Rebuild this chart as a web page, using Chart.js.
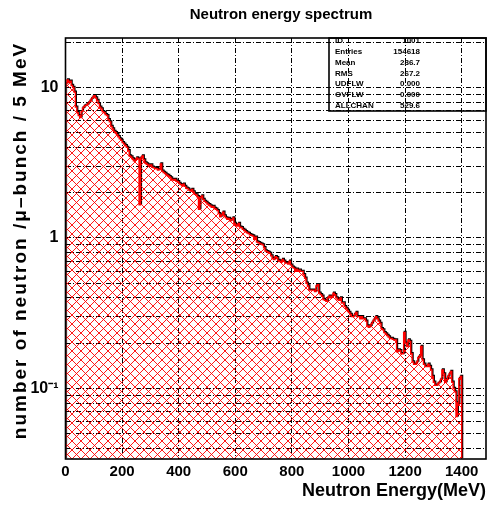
<!DOCTYPE html>
<html>
<head>
<meta charset="utf-8">
<script src="https://cdn.jsdelivr.net/npm/chart.js@4"></script>
<style>
  html, body { margin: 0; padding: 0; background: #fff; }
</style>
</head>
<body>
<canvas id="grafico" width="487" height="508"></canvas>
<script>
// =====================================================
// DATOS - espectro de energia de neutrones (bins de 5 MeV)
// =====================================================

const binWidth = 5;

const counts = [
  10.6, 11.2, 10.8, 11.0, 10.3, 10.0, 9.3, 7.4, 6.8, 6.5, 6.3, 6.9, 7.3, 7.5, 7.6, 7.7, 7.9, 8.1, 8.4, 8.6,
  8.8, 8.5, 8.2, 7.8, 7.4, 7.2, 6.9, 6.8, 6.6, 6.5, 6.1, 5.9, 5.5, 5.3, 5.1, 5.0, 4.85, 4.7, 4.55, 4.45,
  4.3, 4.2, 4.1, 4.0, 3.8, 3.5, 3.45, 3.35, 3.25, 3.3, 3.4, 3.35, 1.66, 3.4, 3.5, 3.3, 3.15, 3.1, 3.05, 3.0,
  3.05, 2.95, 2.92, 2.9, 2.88, 2.83, 2.85, 3.1, 2.78, 2.72, 2.68, 2.62, 2.6, 2.55, 2.5, 2.45, 2.42, 2.45, 2.38, 2.36,
  2.3, 2.26, 2.22, 2.28, 2.2, 2.14, 2.12, 2.08, 2.05, 2.1, 2.02, 1.95, 1.93, 1.88, 1.55, 1.85, 1.9, 1.8, 1.75, 1.72,
  1.68, 1.66, 1.63, 1.6, 1.62, 1.57, 1.55, 1.52, 1.45, 1.38, 1.42, 1.48, 1.4, 1.36, 1.33, 1.35, 1.3, 1.32, 1.36, 1.25,
  1.22, 1.2, 1.25, 1.18, 1.17, 1.14, 1.12, 1.1, 1.08, 1.07, 1.05, 1.04, 1.03, 0.98, 1.01, 0.94, 0.93, 0.92, 0.91, 0.9,
  0.86, 0.82, 0.81, 0.8, 0.79, 0.76, 0.73, 0.72, 0.75, 0.74, 0.71, 0.7, 0.69, 0.72, 0.7, 0.68, 0.68, 0.67, 0.7, 0.66,
  0.64, 0.63, 0.6, 0.62, 0.6, 0.61, 0.6, 0.6, 0.57, 0.54, 0.5, 0.48, 0.45, 0.45, 0.45, 0.45, 0.44, 0.48, 0.49, 0.43,
  0.42, 0.41, 0.39, 0.385, 0.38, 0.4, 0.41, 0.4, 0.41, 0.43, 0.42, 0.4, 0.39, 0.385, 0.4, 0.37, 0.37, 0.35, 0.34, 0.33,
  0.32, 0.31, 0.3, 0.3, 0.31, 0.32, 0.3, 0.3, 0.29, 0.3, 0.29, 0.29, 0.28, 0.26, 0.255, 0.26, 0.27, 0.28, 0.29, 0.3,
  0.29, 0.28, 0.27, 0.25, 0.245, 0.235, 0.23, 0.225, 0.22, 0.215, 0.215, 0.212, 0.21, 0.21, 0.175, 0.18, 0.178, 0.17, 0.17, 0.236,
  0.2, 0.19, 0.21, 0.205, 0.17, 0.15, 0.145, 0.145, 0.15, 0.16, 0.165, 0.19, 0.155, 0.145, 0.14, 0.14, 0.145, 0.14, 0.133, 0.12,
  0.11, 0.105, 0.105, 0.108, 0.11, 0.115, 0.133, 0.125, 0.11, 0.115, 0.12, 0.125, 0.13, 0.11, 0.1, 0.095, 0.065, 0.08, 0.116, 0.12
];

const xTickValues = [0, 200, 400, 600, 800, 1000, 1200, 1400];

const yTickValues = [
  0.04, 0.05, 0.06, 0.07, 0.08, 0.09,
  0.1, 0.2, 0.3, 0.4, 0.5, 0.6, 0.7, 0.8, 0.9,
  1, 2, 3, 4, 5, 6, 7, 8, 9,
  10, 20
];

const yTickLabels = { "0.1": "10\u207B\u00B9", "1": "1", "10": "10" };

const statsLabels = ["ID", "Entries", "Mean", "RMS", "UDFLW", "OVFLW", "ALLCHAN"];
const statsValues = ["1001", "154618", "286.7", "267.2", "0.000", "0.000", "529.6"];

const tituloY = "number of neutron /\u03BC\u2013bunch / 5 MeV";

const FUENTE = "'Liberation Sans', Arial, Helvetica, sans-serif";

// =====================================================
// PUNTOS DEL HISTOGRAMA (bordes de bin)
// =====================================================

const suelo = 1e-3;
const puntos = [{ x: 0, y: suelo }];
counts.forEach((c, i) => puntos.push({ x: i * binWidth, y: c }));
puntos.push({ x: counts.length * binWidth, y: counts[counts.length - 1] });
puntos.push({ x: counts.length * binWidth, y: suelo });

// trama cruzada roja
function crearTrama() {
  const c = document.createElement("canvas");
  c.width = 9;
  c.height = 9;
  const g = c.getContext("2d");
  g.strokeStyle = "#ff0000";
  g.lineWidth = 0.9;
  g.beginPath();
  g.moveTo(-1, -1); g.lineTo(10, 10);
  g.moveTo(-1, 10); g.lineTo(10, -1);
  g.stroke();
  return g.createPattern(c, "repeat");
}

// =====================================================
// PLUGINS
// =====================================================

const sombra = {
  id: "sombra",
  beforeDatasetDraw(chart, args) {
    if (args.index === 1) {
      chart.ctx.save();
      chart.ctx.translate(0.8, -0.9);
    }
  },
  afterDatasetDraw(chart, args) {
    if (args.index === 1) chart.ctx.restore();
  }
};

const marco = {
  id: "marco",
  afterDraw(chart) {
    const { ctx, chartArea } = chart;
    ctx.save();

    // marco del grafico
    ctx.strokeStyle = "#000";
    ctx.lineWidth = 1.6;
    ctx.strokeRect(chartArea.left, chartArea.top, chartArea.right - chartArea.left, chartArea.bottom - chartArea.top);

    // titulo
    ctx.fillStyle = "#000";
    ctx.font = "bold 15px " + FUENTE;
    ctx.textAlign = "center";
    ctx.textBaseline = "middle";
    ctx.fillText("Neutron energy spectrum", 281, 15);

    // titulo eje Y (espaciado ancho como en el original)
    ctx.save();
    ctx.translate(21, (chartArea.top + chartArea.bottom) / 2 - 8);
    ctx.rotate(-Math.PI / 2);
    ctx.font = "bold 19px " + FUENTE;
    ctx.letterSpacing = "2px";
    ctx.fillText(tituloY, 0, 0);
    ctx.restore();

    // caja de estadisticas
    const bx = 329, by = chartArea.top, bw = chartArea.right - 329, bh = 73;
    ctx.lineWidth = 1.6;
    ctx.strokeRect(bx, by, bw, bh);
    ctx.font = "bold 8px " + FUENTE;
    statsLabels.forEach((lab, i) => {
      const y = by + 3 + i * 10.8;
      ctx.textAlign = "left";
      ctx.fillText(lab, bx + 6, y);
      ctx.textAlign = "right";
      ctx.fillText(statsValues[i], 420, y);
    });

    ctx.restore();
  }
};

// =====================================================
// GRAFICO
// =====================================================

const ctx = document.getElementById("grafico").getContext("2d");

new Chart(ctx, {
  type: "line",
  data: {
    datasets: [
      {
        data: puntos,
        stepped: "before",
        borderColor: "#ff0000",
        borderWidth: 1.4,
        backgroundColor: crearTrama(),
        fill: "start",
        pointRadius: 0,
        order: 0
      },
      {
        data: puntos,
        stepped: "before",
        borderColor: "#000",
        borderWidth: 1.6,
        fill: false,
        pointRadius: 0,
        order: 1
      }
    ]
  },
  options: {
    responsive: false,
    animation: false,
    layout: { padding: { top: 38, right: 1, bottom: 0, left: 0 } },
    plugins: {
      legend: { display: false },
      tooltip: { enabled: false }
    },
    scales: {
      x: {
        type: "linear",
        min: 0,
        max: 1486,
        z: 1,
        afterFit: s => { s.height = 49; },
        afterBuildTicks: s => { s.ticks = xTickValues.map(v => ({ value: v })); },
        ticks: {
          autoSkip: false,
          maxRotation: 0,
          padding: 4,
          color: "#000",
          font: { family: FUENTE, size: 15, weight: "bold" },
          callback: v => String(v)
        },
        grid: { color: "#000", lineWidth: 1, drawTicks: false },
        border: { display: false, dash: [5, 2, 1, 2] },
        title: {
          display: true,
          text: "Neutron Energy(MeV)",
          align: "end",
          color: "#000",
          font: { family: FUENTE, size: 18, weight: "bold" },
          padding: { top: 0, bottom: 6 }
        }
      },
      y: {
        type: "logarithmic",
        min: 0.034,
        max: 21.3,
        z: 1,
        afterFit: s => { s.width = 65.5; },
        afterBuildTicks: s => { s.ticks = yTickValues.map(v => ({ value: v })); },
        ticks: {
          autoSkip: false,
          padding: 7,
          color: "#000",
          font: { family: FUENTE, size: 16, weight: "bold" },
          callback: v => yTickLabels[String(v)] || ""
        },
        grid: { color: "#000", lineWidth: 1, drawTicks: false },
        border: { display: false, dash: [5, 2, 1, 2] }
      }
    }
  },
  plugins: [sombra, marco]
});
</script>
</body>
</html>
